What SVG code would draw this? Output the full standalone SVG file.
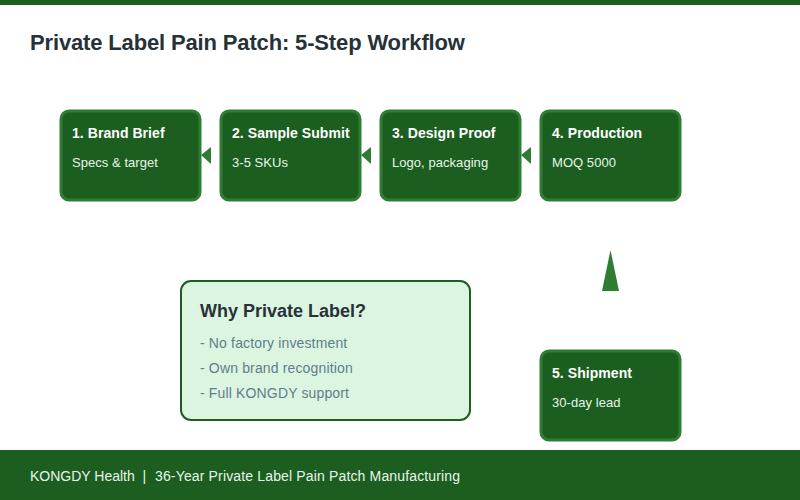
<svg xmlns="http://www.w3.org/2000/svg" width="800" height="500" viewBox="0 0 800 500">
<style>
text{font-family:"Liberation Sans",Arial,sans-serif}
.n{fill:#1b5e20;stroke:#2e7d32;stroke-width:3}
.t{font-size:14px;font-weight:700;fill:#fff;letter-spacing:.06px}
.s{font-size:13px;fill:#e8f5e9;letter-spacing:.05px}
.a{fill:#2e7d32}
.l{font-size:14px;fill:#607d8b;letter-spacing:.15px}
</style>
<rect width="800" height="500" fill="#fff"/>
<rect width="800" height="5" fill="#1b5e20"/>
<text x="30" y="50" font-size="22" font-weight="700" fill="#263238" letter-spacing="-.15">Private Label Pain Patch: 5-Step Workflow</text>
<g id="connectors">
<polygon class="a" points="211,147 201,155 211,164"/>
<polygon class="a" points="371,147 361,155 371,164"/>
<polygon class="a" points="531,147 521,155 531,164"/>
<polygon class="a" points="602,291 610.5,250 619,291"/>
</g>
<g id="node1"><rect class="n" x="61" y="111" width="139" height="89" rx="8"/><text class="t" x="72" y="138">1. Brand Brief</text><text class="s" x="72" y="167">Specs &amp; target</text></g>
<g id="node2"><rect class="n" x="221" y="111" width="139" height="89" rx="8"/><text class="t" x="232" y="138">2. Sample Submit</text><text class="s" x="232" y="167">3-5 SKUs</text></g>
<g id="node3"><rect class="n" x="381" y="111" width="139" height="89" rx="8"/><text class="t" x="392" y="138">3. Design Proof</text><text class="s" x="392" y="167">Logo, packaging</text></g>
<g id="node4"><rect class="n" x="541" y="111" width="139" height="89" rx="8"/><text class="t" x="552" y="138">4. Production</text><text class="s" x="552" y="167">MOQ 5000</text></g>
<g id="node5"><rect class="n" x="541" y="351" width="139" height="89" rx="8"/><text class="t" x="552" y="378">5. Shipment</text><text class="s" x="552" y="407">30-day lead</text></g>
<g id="why"><rect x="181" y="281" width="289" height="139" rx="10" fill="#dcf5e0" stroke="#1b5e20" stroke-width="2"/>
<text x="200" y="317" font-size="18" font-weight="700" fill="#263238">Why Private Label?</text>
<text class="l" x="200" y="348">- No factory investment</text>
<text class="l" x="200" y="373">- Own brand recognition</text>
<text class="l" x="200" y="398">- Full KONGDY support</text></g>
<g id="footer"><rect y="450" width="800" height="50" fill="#1b5e20"/><text x="30" y="481" font-size="14" fill="#e8f5e9" xml:space="preserve">KONGDY Health  |  <tspan x="155" letter-spacing=".15">36-Year Private Label Pain Patch Manufacturing</tspan></text></g>
</svg>
